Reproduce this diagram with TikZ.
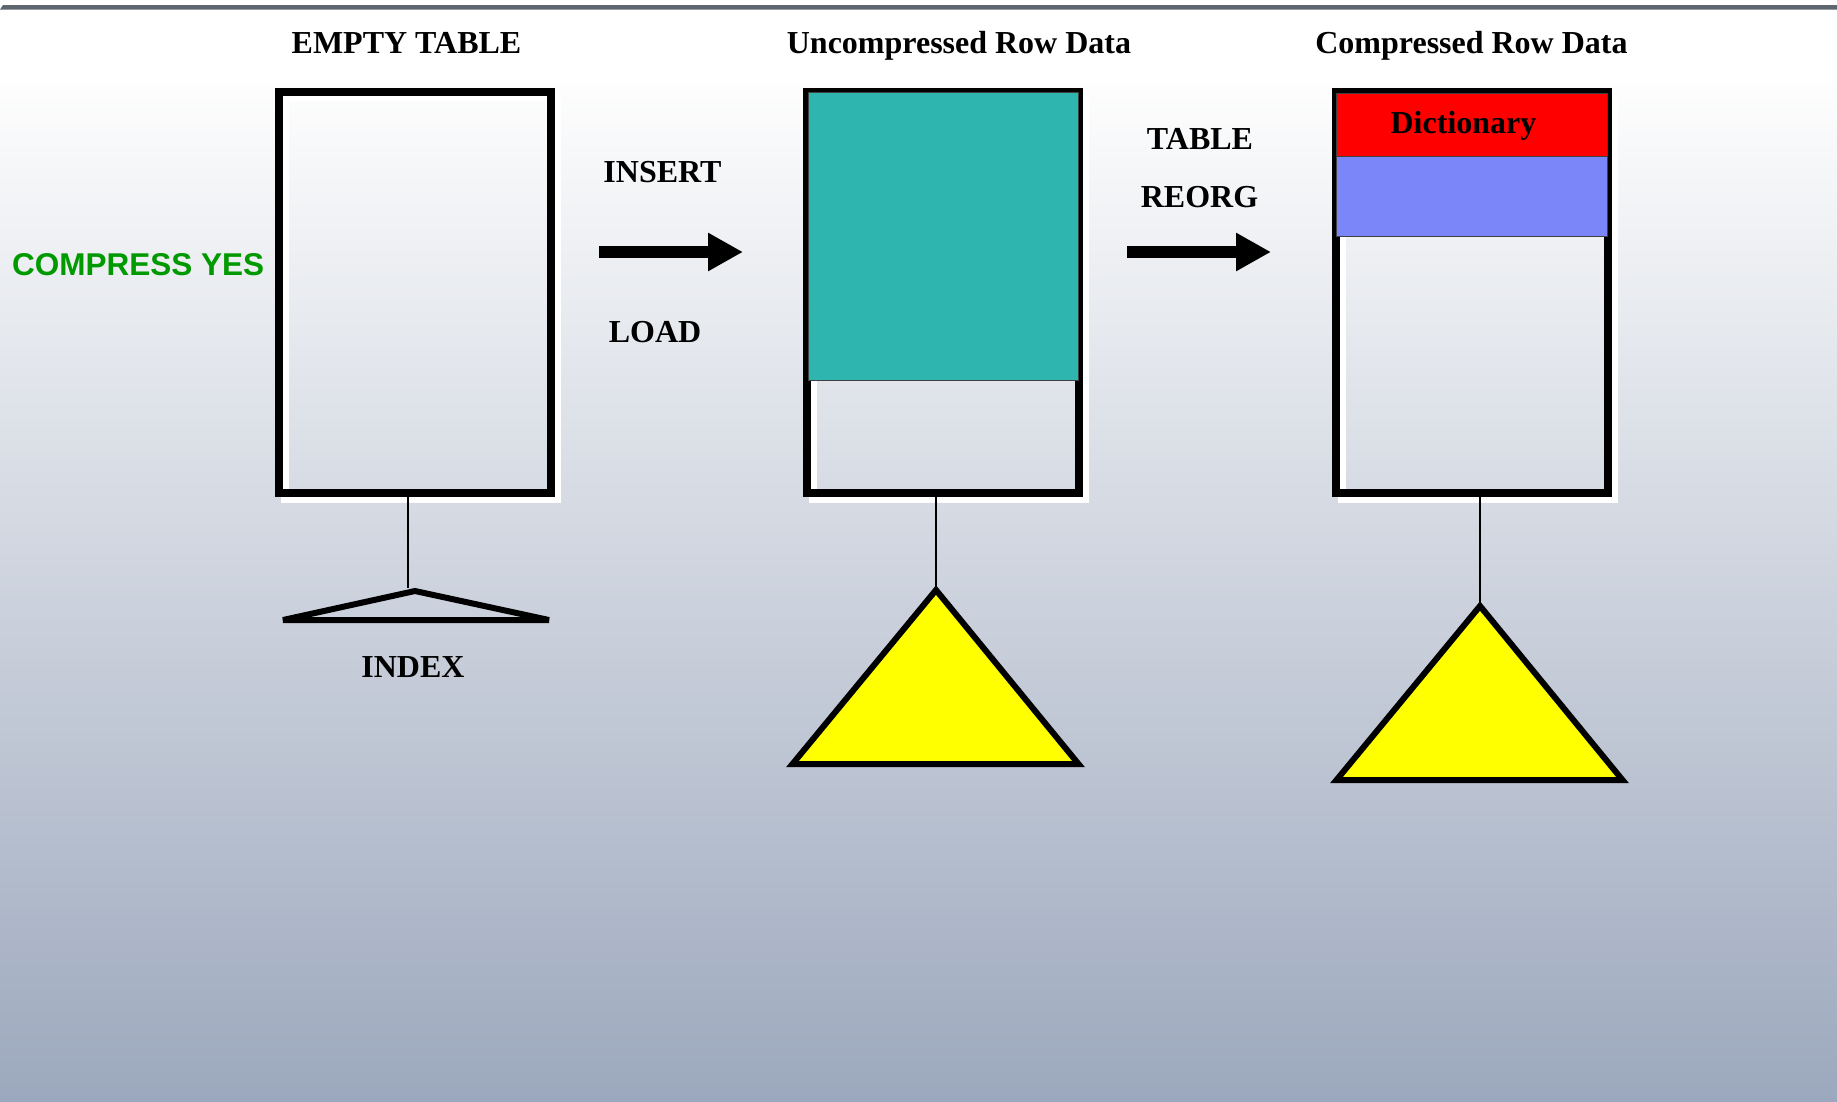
\documentclass[tikz,border=0pt]{standalone}
\usepackage{fontspec}
\setmainfont{Liberation Serif}
\newfontfamily\sansfam{Liberation Sans}
\usetikzlibrary{arrows.meta}
\definecolor{barc}{HTML}{5E6670}
\definecolor{bgtop}{HTML}{FEFEFE}
\definecolor{bgbot}{HTML}{9CA8BD}
\definecolor{tealc}{HTML}{2FB5B0}
\definecolor{redc}{HTML}{FF0000}
\definecolor{bluec}{HTML}{7B87F8}
\definecolor{yellowc}{HTML}{FFFF00}
\definecolor{greenc}{HTML}{009900}
\begin{document}
\begin{tikzpicture}[x=1pt,y=-1pt,
  lbl/.style={font=\fontsize{32}{38}\selectfont\bfseries, anchor=base, inner sep=0pt},
  tbox/.style={draw=black, line width=8pt, minimum width=272pt, minimum height=401pt, inner sep=0pt, outer sep=0pt},
  shadowbox/.style={draw=white, line width=8pt, minimum width=272pt, minimum height=401pt, inner sep=0pt, outer sep=0pt},
  band/.style={draw=black!75, line width=1pt},
  stem/.style={draw=black, line width=1.6pt},
  tri/.style={draw=black, line width=6pt, line join=miter, miter limit=3},
  bigarrow/.style={draw=black, line width=12pt, -{Triangle[length=35pt,width=36pt]}}]
\useasboundingbox (0,0) rectangle (1837,1101);
% background
\fill[white] (0,0) rectangle (1837,1101);
\shade[top color=bgtop, bottom color=bgbot] (0,80) rectangle (1837,1101);
\fill[barc] (3,5) -- (1837,5) -- (1837,9.5) -- (0,9.5) -- cycle;

% shadows
\node[shadowbox] (sh1) at (421,298.5) {};
\node[shadowbox] (sh2) at (949,298.5) {};
\node[shadowbox] (sh3) at (1477.5,298.5) {};

% boxes
\node[tbox] (b1) at (415,292.5) {};
\node[tbox] (b2) at (943,292.5) {};
\node[tbox] (b3) at (1471.5,292.5) {};

% fills inside boxes
\draw[band, fill=tealc] (808,92) rectangle (1078,380);
\draw[band, fill=redc] (1336,93) rectangle (1607,156);
\draw[band, fill=bluec] (1336,156) rectangle (1607,236);

% titles
\node[lbl] (t1) at (406.5,53) {EMPTY TABLE};
\node[lbl] (t2) at (959,53) {Uncompressed Row Data};
\node[lbl] (t3) at (1471.5,53) {Compressed Row Data};
\node[lbl] (dict) at (1463.5,133) {Dictionary};

% side labels
\node[lbl] (ins) at (662.5,182) {INSERT};
\node[lbl] (load) at (655,342) {LOAD};
\node[lbl] (tab) at (1200,149) {TABLE};
\node[lbl] (reorg) at (1199.5,207) {REORG};
\node[lbl] (idx) at (413,677) {INDEX};
\node[font=\fontsize{31.5}{38}\selectfont\sansfam\bfseries, text=greenc, anchor=base west, inner sep=0pt] (cy) at (12,275) {COMPRESS YES};

% arrows
\coordinate (a1s) at (599,252);
\coordinate (a1e) at (743,252);
\coordinate (a2s) at (1127,252);
\coordinate (a2e) at (1271,252);
\draw[bigarrow] (a1s) -- (a1e);
\draw[bigarrow] (a2s) -- (a2e);

% index triangles
\coordinate (x1a) at (415,591);
\coordinate (x1l) at (283,620);
\coordinate (x1r) at (549,620);
\coordinate (x2a) at (936,590);
\coordinate (x2l) at (792.5,764);
\coordinate (x2r) at (1078.5,764);
\coordinate (x3a) at (1480,606);
\coordinate (x3l) at (1336.5,780);
\coordinate (x3r) at (1622.5,780);

% stems
\coordinate (s1t) at (408,497);
\coordinate (s1b) at (408,588);
\coordinate (s2t) at (936,496);
\coordinate (s3t) at (1480,496);
\draw[stem] (s1t) -- (s1b);
\draw[stem] (s2t) -- (x2a);
\draw[stem] (s3t) -- (x3a);

\draw[tri] (x1a) -- (x1r) -- (x1l) -- cycle;
\draw[tri, fill=yellowc] (x2a) -- (x2r) -- (x2l) -- cycle;
\draw[tri, fill=yellowc] (x3a) -- (x3r) -- (x3l) -- cycle;
\end{tikzpicture}
\end{document}
